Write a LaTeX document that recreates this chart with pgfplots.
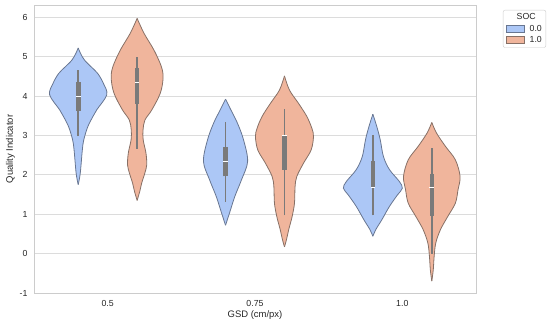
\documentclass[border=0pt]{standalone}
\usepackage{pgfplots}
\pgfplotsset{compat=1.18}
\usepackage{pgfplotstable}
\usepgfplotslibrary{fillbetween}
\usepackage{fontspec}
\setmainfont{Liberation Sans}
\definecolor{vblue}{RGB}{172,199,246}
\definecolor{vorange}{RGB}{240,181,156}
\definecolor{eblue}{RGB}{104,118,145}
\definecolor{eorange}{RGB}{135,112,102}
\definecolor{innerc}{RGB}{122,122,122}
\definecolor{gridc}{RGB}{220,220,220}
\definecolor{framec}{RGB}{204,204,204}
\definecolor{txt}{RGB}{38,38,38}
\pgfplotsset{patch legend/.style={legend image code/.code={%
  \draw[sharp corners, ##1] (0bp,-3bp) rectangle (18bp,3.5bp);}}}

% violin outlines: y value, half width (x units)
\pgfplotstableread{
y w
1.75 0
2.04 0.014
2.63 0.028
2.89 0.038
3.22 0.065
3.48 0.10
3.65 0.126
4.03 0.194
4.32 0.171
4.57 0.133
4.74 0.088
4.91 0.043
5.08 0.016
5.22 0
}\vA
\pgfplotstableread{
y w
1.35 0
1.58 0.018
1.79 0.031
2.04 0.052
2.25 0.065
2.55 0.06
2.89 0.041
3.14 0.04
3.39 0.053
3.65 0.10
4.07 0.157
4.45 0.176
4.74 0.165
5.16 0.115
5.59 0.047
5.97 0
}\vB
\pgfplotstableread{
y w
0.72 0
1.03 0.027
1.45 0.063
1.87 0.108
2.34 0.15
2.89 0.122
3.31 0.081
3.65 0.036
3.92 0
}\vC
\pgfplotstableread{
y w
0.17 0
0.36 0.014
0.61 0.029
0.94 0.052
1.28 0.068
1.70 0.072
1.96 0.084
2.30 0.13
2.63 0.181
2.97 0.197
3.18 0.186
3.48 0.152
3.81 0.096
4.15 0.034
4.51 0
}\vD
\pgfplotstableread{
y w
0.44 0
0.61 0.02
0.86 0.061
1.20 0.113
1.49 0.167
1.66 0.2
1.83 0.18
2.13 0.113
2.46 0.072
2.89 0.05
3.22 0.027
3.54 0
}\vE
\pgfplotstableread{
y w
-0.70 0
-0.41 0.01
-0.07 0.016
0.27 0.027
0.61 0.059
0.94 0.108
1.28 0.16
1.62 0.178
1.96 0.192
2.38 0.16
2.72 0.093
3.06 0.032
3.33 0
}\vF

% #1 name, #2 table, #3 center, #4 fill, #5 edge
\newcommand{\violin}[5]{%
  \addplot[draw=#5, line width=0.8bp, smooth, tension=0.55, forget plot, name path=#1R]
    table[x expr=#3+\thisrow{w}, y=y]{#2};
  \addplot[draw=#5, line width=0.8bp, smooth, tension=0.55, forget plot, name path=#1L]
    table[x expr=#3-\thisrow{w}, y=y]{#2};
  \addplot[fill=#4, draw=none, forget plot] fill between[of=#1R and #1L];
}
% #1 center, #2 lo, #3 q1, #4 med, #5 q3, #6 hi
\newcommand{\innerbox}[6]{%
  \addplot[innerc, line width=1.5bp, forget plot] coordinates {(#1,#2) (#1,#6)};
  \addplot[innerc, line width=4.6bp, forget plot] coordinates {(#1,#3) (#1,#5)};
  \addplot[white, line width=0.9bp, forget plot] coordinates {(#1-0.016,#4) (#1+0.016,#4)};
}

\begin{document}
\begin{tikzpicture}
\begin{axis}[
  at={(0,0)}, anchor=south west,
  scale only axis, width=442bp, height=288bp,
  xmin=-0.5, xmax=2.5, ymin=-1, ymax=6.31,
  xtick={0,1,2}, xticklabels={0.5,0.75,1.0},
  ytick={-1,0,1,2,3,4,5,6},
  major tick length=0pt,
  ymajorgrids, grid style={gridc, line width=0.8bp},
  axis line style={framec, line width=0.9bp},
  /pgf/number format/assume math mode=true,
  tick label style={font=\fontsize{8.8}{10}\selectfont, text=txt},
  xticklabel style={yshift=-4bp},
  yticklabel style={xshift=-3bp},
  label style={font=\fontsize{9.5}{11}\selectfont, text=txt},
  xlabel={GSD (cm/px)},
  ylabel={Quality Indicator},
  xlabel style={yshift=3bp},
  ylabel style={yshift=-2bp},
  legend style={at={(1.061,0.983)}, anchor=north west,
    font=\fontsize{8.8}{10}\selectfont, text=txt,
    draw=framec, rounded corners=2bp, fill=white,
    row sep=1.8bp, column sep=4bp, inner xsep=3bp, inner ysep=2.5bp,
    nodes={inner sep=1bp}},
  legend cell align=left,
]
\violin{a}{\vA}{-0.2}{vblue}{eblue}
\violin{b}{\vB}{0.2}{vorange}{eorange}
\violin{c}{\vC}{0.8}{vblue}{eblue}
\violin{d}{\vD}{1.2}{vorange}{eorange}
\violin{e}{\vE}{1.8}{vblue}{eblue}
\violin{f}{\vF}{2.2}{vorange}{eorange}

\innerbox{-0.2}{2.98}{3.63}{4.00}{4.36}{4.67}
\innerbox{0.2}{2.66}{3.80}{4.34}{4.70}{5.00}
\innerbox{0.8}{1.31}{1.96}{2.34}{2.70}{3.33}
\innerbox{1.2}{0.97}{2.13}{3.00}{3.02}{3.66}
\innerbox{1.8}{0.97}{1.66}{1.68}{2.35}{3.00}
\innerbox{2.2}{0.00}{0.96}{1.68}{2.03}{2.68}

\addlegendimage{empty legend}
\addlegendentry{\hspace*{-13bp}SOC}
\addlegendimage{patch legend, fill=vblue, draw=eblue, line width=0.5bp}
\addlegendentry{0.0}
\addlegendimage{patch legend, fill=vorange, draw=eorange, line width=0.5bp}
\addlegendentry{1.0}
\end{axis}
\path (-34bp,-33bp) rectangle (516bp,293bp);
\end{tikzpicture}
\end{document}
